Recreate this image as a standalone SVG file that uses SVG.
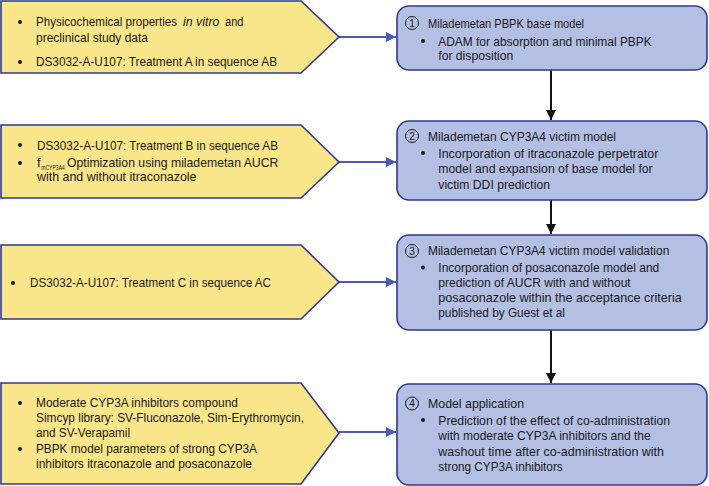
<svg xmlns="http://www.w3.org/2000/svg" width="709" height="486" viewBox="0 0 709 486">
<defs>
<style>
.inp{fill:#FAE68A;stroke:#2E3A8C;stroke-width:1.6}
.stp{fill:#B4BFE4;stroke:#2E3A8C;stroke-width:1.6}
text{font-family:"Liberation Sans",Arial,sans-serif;font-size:13px;fill:#1a1a1a}
.sub{font-size:8px}
.it{font-style:italic}
.bul{fill:#1a1a1a}
.num{font-size:10px;text-anchor:middle}
.nc{fill:none;stroke:#1a1a1a;stroke-width:1}
.ab{stroke:#4A5BB5;stroke-width:2;fill:none}
.ak{stroke:#111;stroke-width:2;fill:none}
</style>
<marker id="mb" viewBox="0 0 10 10" refX="10" refY="5" markerWidth="5" markerHeight="5" orient="auto" markerUnits="strokeWidth"><path d="M0,0 L10,5 L0,10 z" fill="#4A5BB5"/></marker>
<marker id="mk" viewBox="0 0 10 10" refX="10" refY="5" markerWidth="5" markerHeight="5" orient="auto" markerUnits="strokeWidth"><path d="M0,0 L10,5 L0,10 z" fill="#111"/></marker>
</defs>

<g id="connectors">
<line class="ab" x1="339" y1="37" x2="396" y2="37" marker-end="url(#mb)"/>
<line class="ab" x1="339" y1="162" x2="396" y2="162" marker-end="url(#mb)"/>
<line class="ab" x1="339" y1="282" x2="396" y2="282" marker-end="url(#mb)"/>
<line class="ab" x1="339" y1="432" x2="396" y2="432" marker-end="url(#mb)"/>
<line class="ak" x1="551" y1="70" x2="551" y2="120" marker-end="url(#mk)"/>
<line class="ak" x1="551" y1="200" x2="551" y2="234" marker-end="url(#mk)"/>
<line class="ak" x1="551" y1="330" x2="551" y2="383" marker-end="url(#mk)"/>
</g>

<g id="input1">
<polygon class="inp" points="1,1 301,1 339,37 301,73 1,73"/>
<circle class="bul" cx="20" cy="22" r="2"/>
<text x="36" y="26" textLength="141" lengthAdjust="spacingAndGlyphs">Physicochemical properties</text>
<text class="it" x="183" y="26" textLength="36.5" lengthAdjust="spacingAndGlyphs">in vitro</text>
<text x="225" y="26" textLength="18.5" lengthAdjust="spacingAndGlyphs">and</text>
<text x="36" y="42" textLength="112" lengthAdjust="spacingAndGlyphs">preclinical study data</text>
<circle class="bul" cx="20" cy="62" r="2"/>
<text x="36" y="66" textLength="241" lengthAdjust="spacingAndGlyphs">DS3032-A-U107: Treatment A in sequence AB</text>
</g>

<g id="input2">
<polygon class="inp" points="1,125 301,125 339,162 301,198 1,198"/>
<circle class="bul" cx="20" cy="145" r="2"/>
<text x="37" y="149.5" textLength="241" lengthAdjust="spacingAndGlyphs">DS3032-A-U107: Treatment B in sequence AB</text>
<circle class="bul" cx="20" cy="163" r="2"/>
<text x="37" y="167">f</text>
<text class="sub" x="41.3" y="170" textLength="23.5" lengthAdjust="spacingAndGlyphs">mCYP3A4</text>
<text x="67" y="167" textLength="211.3" lengthAdjust="spacingAndGlyphs">Optimization using milademetan AUCR</text>
<text x="37" y="181" textLength="159.5" lengthAdjust="spacingAndGlyphs">with and without itraconazole</text>
</g>

<g id="input3">
<polygon class="inp" points="1,245 301,245 339,282 301,319 1,319"/>
<circle class="bul" cx="13" cy="283" r="2"/>
<text x="30" y="287" textLength="241" lengthAdjust="spacingAndGlyphs">DS3032-A-U107: Treatment C in sequence AC</text>
</g>

<g id="input4">
<polygon class="inp" points="1,383 301,383 339,433 301,484 1,484"/>
<circle class="bul" cx="20" cy="403" r="2"/>
<text x="36" y="407" textLength="202" lengthAdjust="spacingAndGlyphs">Moderate CYP3A inhibitors compound</text>
<text x="36" y="422" textLength="268" lengthAdjust="spacingAndGlyphs">Simcyp library: SV-Fluconazole, Sim-Erythromycin,</text>
<text x="36" y="437" textLength="94" lengthAdjust="spacingAndGlyphs">and SV-Verapamil</text>
<circle class="bul" cx="20" cy="449" r="2"/>
<text x="36" y="453" textLength="221" lengthAdjust="spacingAndGlyphs">PBPK model parameters of strong CYP3A</text>
<text x="36" y="468" textLength="216" lengthAdjust="spacingAndGlyphs">inhibitors itraconazole and posaconazole</text>
</g>

<g id="step1">
<rect class="stp" x="397" y="6" width="310" height="64" rx="12"/>
<circle class="nc" cx="412" cy="23" r="6.5"/>
<text class="num" x="412" y="26.5">1</text>
<text x="428" y="27.5" textLength="156" lengthAdjust="spacingAndGlyphs">Milademetan PBPK base model</text>
<circle class="bul" cx="423" cy="41" r="2"/>
<text x="438.3" y="45.5" textLength="213.4" lengthAdjust="spacingAndGlyphs">ADAM for absorption and minimal PBPK</text>
<text x="438.3" y="60" textLength="75" lengthAdjust="spacingAndGlyphs">for disposition</text>
</g>

<g id="step2">
<rect class="stp" x="397" y="121" width="310" height="79" rx="12"/>
<circle class="nc" cx="412" cy="136" r="6.5"/>
<text class="num" x="412" y="139.5">2</text>
<text x="428" y="140.5" textLength="188" lengthAdjust="spacingAndGlyphs">Milademetan CYP3A4 victim model</text>
<circle class="bul" cx="423" cy="153" r="2"/>
<text x="438.3" y="157.5" textLength="220" lengthAdjust="spacingAndGlyphs">Incorporation of itraconazole perpetrator</text>
<text x="438.3" y="173" textLength="214.4" lengthAdjust="spacingAndGlyphs">model and expansion of base model for</text>
<text x="438.3" y="188.5" textLength="111.7" lengthAdjust="spacingAndGlyphs">victim DDI prediction</text>
</g>

<g id="step3">
<rect class="stp" x="397" y="235" width="310" height="95" rx="12"/>
<circle class="nc" cx="412" cy="251" r="6.5"/>
<text class="num" x="412" y="254.5">3</text>
<text x="428" y="255" textLength="241.3" lengthAdjust="spacingAndGlyphs">Milademetan CYP3A4 victim model validation</text>
<circle class="bul" cx="423" cy="267.5" r="2"/>
<text x="438.3" y="272" textLength="221" lengthAdjust="spacingAndGlyphs">Incorporation of posaconazole model and</text>
<text x="438.3" y="287" textLength="192.4" lengthAdjust="spacingAndGlyphs">prediction of AUCR with and without</text>
<text x="438.3" y="301.5" textLength="243.4" lengthAdjust="spacingAndGlyphs">posaconazole within the acceptance criteria</text>
<text x="438.3" y="316.5" textLength="126.7" lengthAdjust="spacingAndGlyphs">published by Guest et al</text>
</g>

<g id="step4">
<rect class="stp" x="397" y="384" width="310" height="101" rx="12"/>
<circle class="nc" cx="412" cy="403.5" r="6.5"/>
<text class="num" x="412" y="407">4</text>
<text x="428" y="408" textLength="96" lengthAdjust="spacingAndGlyphs">Model application</text>
<circle class="bul" cx="423" cy="420" r="2"/>
<text x="438.3" y="424.5" textLength="231.7" lengthAdjust="spacingAndGlyphs">Prediction of the effect of co-administration</text>
<text x="438.3" y="440" textLength="212.4" lengthAdjust="spacingAndGlyphs">with moderate CYP3A inhibitors and the</text>
<text x="438.3" y="455.5" textLength="225.7" lengthAdjust="spacingAndGlyphs">washout time after co-administration with</text>
<text x="438.3" y="470.5" textLength="124.4" lengthAdjust="spacingAndGlyphs">strong CYP3A inhibitors</text>
</g>
</svg>
